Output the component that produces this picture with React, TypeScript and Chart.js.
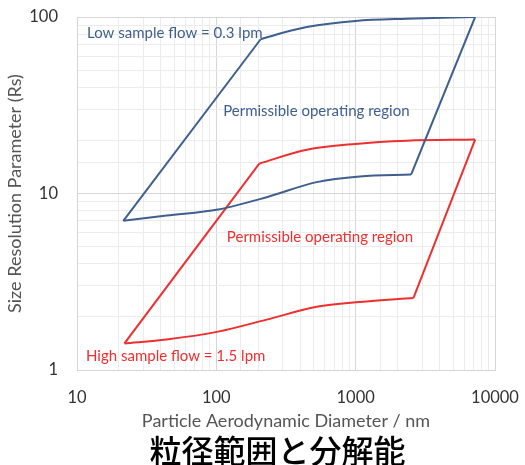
import React, { useEffect, useRef } from "react";
import { Chart, registerables } from "chart.js";

Chart.register(...registerables);

// ---- Data ----
// Low sample flow (0.3 lpm) envelope
const lowLeftX = [21.5, 208];
const lowLeftY = [7.0, 74.8];
const lowTopX = [208, 300, 446, 1000, 2330, 7200];
const lowTopY = [74.8, 81.5, 87.8, 95, 97.8, 100];
const lowRightX = [2500, 7200];
const lowRightY = [12.8, 100];
const lowBottomX = [21.5, 44, 103, 230, 525, 1070, 2500];
const lowBottomY = [7.0, 7.5, 8.12, 9.53, 11.6, 12.5, 12.8];

// High sample flow (1.5 lpm) envelope
const highLeftX = [21.9, 204];
const highLeftY = [1.415, 14.8];
const highTopX = [204, 446, 1000, 2330, 7200];
const highTopY = [14.8, 17.7, 19.1, 19.9, 20.2];
const highRightX = [2600, 7200];
const highRightY = [2.56, 20.2];
const highBottomX = [21.9, 44, 103, 230, 525, 1070, 2600];
const highBottomY = [1.415, 1.49, 1.65, 1.93, 2.28, 2.43, 2.56];

// In-plot labels (data coordinates of their left/middle anchor)
const labelTexts = [
  "Low sample flow = 0.3 lpm",
  "Permissible operating region",
  "Permissible operating region",
  "High sample flow = 1.5 lpm",
];
const labelX = [11.8, 112, 119, 11.6];
const labelY = [81, 29.4, 5.64, 1.2];
const labelSeries = ["low", "low", "high", "high"];

const xTitle = "Particle Aerodynamic Diameter / nm";
const yTitle = "Size Resolution Parameter (Rs)";
const chartTitle = "粒径範囲と分解能";

// ---- Styles ----
const BLUE = "#3f5f8e";
const RED = "#ee2f2f";
const FONT = "Lato, 'Open Sans', sans-serif";

const zip = (xs: number[], ys: number[]) => xs.map((x, i) => ({ x, y: ys[i] }));

const isDecade = (v: number) => {
  const l = Math.log10(v);
  return Math.abs(l - Math.round(l)) < 1e-9;
};

const labelsPlugin = {
  id: "regionLabels",
  afterDatasetsDraw(chart: any) {
    const { ctx, scales } = chart;
    const xs = scales.x;
    const ys = scales.y;
    ctx.save();
    ctx.font = `15px ${FONT}`;
    ctx.textAlign = "left";
    ctx.textBaseline = "middle";
    labelTexts.forEach((t, i) => {
      ctx.fillStyle = labelSeries[i] === "low" ? BLUE : RED;
      ctx.fillText(t, xs.getPixelForValue(labelX[i]), ys.getPixelForValue(labelY[i]));
    });
    ctx.restore();
  },
};

const clearPadding = (scale: any) => {
  scale.paddingTop = 0;
  scale.paddingBottom = 0;
  scale.paddingLeft = 0;
  scale.paddingRight = 0;
};

export default function App() {
  const canvasRef = useRef<HTMLCanvasElement | null>(null);

  useEffect(() => {
    if (!canvasRef.current) return;
    const line = (xs: number[], ys: number[], color: string, curved: boolean) => ({
      data: zip(xs, ys),
      showLine: true,
      borderColor: color,
      backgroundColor: color,
      borderWidth: 2,
      pointRadius: 0,
      pointHoverRadius: 0,
      tension: 0,
      cubicInterpolationMode: curved ? "monotone" : "default",
      fill: false,
    });

    const gridColor = (ctx: any) =>
      ctx.tick && isDecade(ctx.tick.value) ? "#d6d6d6" : "#ececec";

    const chart = new Chart(canvasRef.current, {
      type: "scatter",
      data: {
        datasets: [
          line(lowLeftX, lowLeftY, BLUE, false),
          line(lowTopX, lowTopY, BLUE, true),
          line(lowRightX, lowRightY, BLUE, false),
          line(lowBottomX, lowBottomY, BLUE, true),
          line(highLeftX, highLeftY, RED, false),
          line(highTopX, highTopY, RED, true),
          line(highRightX, highRightY, RED, false),
          line(highBottomX, highBottomY, RED, true),
        ] as any,
      },
      options: {
        animation: false,
        responsive: false,
        layout: { padding: { left: 0, right: 30, top: 17, bottom: 33 } },
        plugins: {
          legend: { display: false },
          tooltip: { enabled: false },
          title: { display: false },
        },
        scales: {
          x: {
            type: "logarithmic",
            min: 10,
            max: 10000,
            afterFit: (s: any) => {
              s.height = 62;
              clearPadding(s);
            },
            grid: { color: gridColor, drawTicks: false },
            border: { color: "#d6d6d6" },
            ticks: {
              autoSkip: false,
              maxRotation: 0,
              padding: 18,
              color: "#333333",
              font: { family: FONT, size: 16.5 },
              callback: (v: any) => (isDecade(Number(v)) ? String(Number(v)) : ""),
            },
            title: {
              display: true,
              text: xTitle,
              color: "#555555",
              font: { family: FONT, size: 18 },
              padding: { top: 0, bottom: 0 },
            },
          },
          y: {
            type: "logarithmic",
            min: 1,
            max: 100,
            afterFit: (s: any) => {
              s.width = 77;
              clearPadding(s);
            },
            grid: { color: gridColor, drawTicks: false },
            border: { color: "#d6d6d6" },
            ticks: {
              autoSkip: false,
              padding: 19,
              color: "#333333",
              font: { family: FONT, size: 16.5 },
              callback: (v: any) => (isDecade(Number(v)) ? String(Number(v)) : ""),
            },
            title: {
              display: true,
              text: yTitle,
              color: "#555555",
              font: { family: FONT, size: 18 },
              padding: { top: 4, bottom: 0 },
            },
          },
        },
      },
      plugins: [labelsPlugin],
    } as any);
    return () => chart.destroy();
  }, []);

  return (
    <div style={{ position: "fixed", left: 0, top: 0, width: 525, height: 465, background: "#fff" }}>
      <canvas ref={canvasRef} width={525} height={465} style={{ display: "block" }} />
      <div
        style={{
          position: "absolute",
          left: 0,
          width: 555,
          top: 433,
          textAlign: "center",
          fontFamily: "'Noto Sans CJK JP', sans-serif",
          fontWeight: 500,
          fontSize: 32,
          lineHeight: "32px",
          color: "#000",
          whiteSpace: "nowrap",
        }}
      >
        {chartTitle}
      </div>
    </div>
  );
}
